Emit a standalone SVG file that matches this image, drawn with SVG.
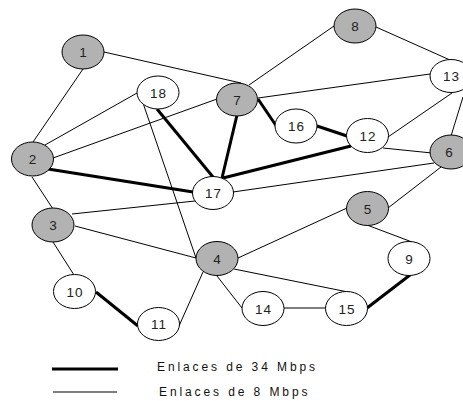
<svg xmlns="http://www.w3.org/2000/svg" width="463" height="401" viewBox="0 0 463 401">
  <style>
    .thin { stroke: #000; stroke-width: 1; fill: none; }
    .thick { stroke: #000; stroke-width: 3; fill: none; }
    .node ellipse { stroke: #000; stroke-width: 1; }
    .hub ellipse { fill: #b2b2b2; }
    .site ellipse { fill: #fff; }
    .node text { font-family: "Liberation Sans", Arial, sans-serif; font-size: 13.5px; letter-spacing: 1px; fill: #222; text-anchor: middle; }
    .legend { font-family: "Liberation Sans", Arial, sans-serif; font-size: 12px; letter-spacing: 2.9px; fill: #111; }
  </style>
  <rect width="463" height="401" fill="#fff"/>

  <!-- links between nodes -->
  <g id="connectors">
    <!-- 8 Mbps links -->
    <line class="thin" x1="104" y1="52" x2="241" y2="83"/>
    <line class="thin" x1="83" y1="69" x2="33" y2="142"/>
    <line class="thin" x1="45" y1="145" x2="137" y2="93"/>
    <line class="thin" x1="53" y1="158" x2="217" y2="99"/>
    <line class="thin" x1="32" y1="177" x2="53" y2="209"/>
    <line class="thin" x1="72" y1="214" x2="195" y2="201"/>
    <line class="thin" x1="75" y1="226" x2="196" y2="258"/>
    <line class="thin" x1="53" y1="242" x2="74" y2="275"/>
    <line class="thin" x1="143" y1="103" x2="196" y2="258"/>
    <line class="thin" x1="249" y1="85" x2="334" y2="26"/>
    <line class="thin" x1="258" y1="98" x2="430" y2="74"/>
    <line class="thin" x1="376" y1="27" x2="450" y2="60"/>
    <line class="thin" x1="388" y1="137" x2="452" y2="93"/>
    <line class="thin" x1="463" y1="97" x2="451" y2="136"/>
    <line class="thin" x1="383" y1="148" x2="432" y2="153"/>
    <line class="thin" x1="233" y1="192" x2="434" y2="163"/>
    <line class="thin" x1="388" y1="208" x2="441" y2="167"/>
    <line class="thin" x1="238" y1="258" x2="347" y2="208"/>
    <line class="thin" x1="367" y1="225" x2="412" y2="242"/>
    <line class="thin" x1="234" y1="269" x2="348" y2="292"/>
    <line class="thin" x1="217" y1="276" x2="242" y2="308"/>
    <line class="thin" x1="203" y1="272" x2="179" y2="326"/>
    <line class="thin" x1="284" y1="308" x2="326" y2="308"/>
    <!-- 34 Mbps links -->
    <line class="thick" x1="48" y1="169" x2="193" y2="192"/>
    <line class="thick" x1="157" y1="109" x2="213" y2="177"/>
    <line class="thick" x1="237" y1="115" x2="222" y2="178"/>
    <line class="thick" x1="223" y1="178" x2="351" y2="146"/>
    <line class="thick" x1="258" y1="99" x2="277" y2="127"/>
    <line class="thick" x1="317" y1="126" x2="347" y2="136"/>
    <line class="thick" x1="96" y1="292" x2="138" y2="326"/>
    <line class="thick" x1="367" y1="308" x2="410" y2="275"/>
  </g>

  <!-- nodes -->
  <g id="n1" class="node hub"><ellipse cx="83" cy="52" rx="21" ry="17"/><text x="83.5" y="57">1</text></g>
  <g id="n2" class="node hub"><ellipse cx="32.5" cy="159" rx="21" ry="17"/><text x="33" y="164">2</text></g>
  <g id="n3" class="node hub"><ellipse cx="53" cy="225" rx="21" ry="17"/><text x="53.5" y="230">3</text></g>
  <g id="n4" class="node hub"><ellipse cx="217" cy="258.5" rx="21" ry="17"/><text x="217.5" y="263.5">4</text></g>
  <g id="n5" class="node hub"><ellipse cx="367.5" cy="208.5" rx="21" ry="17"/><text x="368" y="213.5">5</text></g>
  <g id="n6" class="node hub"><ellipse cx="451" cy="152" rx="21" ry="17"/><text x="449.5" y="157">6</text></g>
  <g id="n7" class="node hub"><ellipse cx="237" cy="99.5" rx="20.5" ry="16.5"/><text x="237.5" y="104.5">7</text></g>
  <g id="n8" class="node hub"><ellipse cx="355" cy="26" rx="21" ry="17"/><text x="355.5" y="31">8</text></g>
  <g id="n9" class="node site"><ellipse cx="409" cy="258.5" rx="21" ry="17"/><text x="409.5" y="263.5">9</text></g>
  <g id="n10" class="node site"><ellipse cx="74.5" cy="291.5" rx="21" ry="17"/><text x="75" y="296.5">10</text></g>
  <g id="n11" class="node site"><ellipse cx="158.5" cy="324" rx="21" ry="16.5"/><text x="159" y="329">11</text></g>
  <g id="n12" class="node site"><ellipse cx="367.5" cy="135.5" rx="21" ry="17"/><text x="368" y="140.5">12</text></g>
  <g id="n13" class="node site"><ellipse cx="451" cy="76" rx="21" ry="16.5"/><text x="451.5" y="81">13</text></g>
  <g id="n14" class="node site"><ellipse cx="263" cy="308.5" rx="21" ry="17"/><text x="263.5" y="313.5">14</text></g>
  <g id="n15" class="node site"><ellipse cx="346.5" cy="308.5" rx="21" ry="17"/><text x="347" y="313.5">15</text></g>
  <g id="n16" class="node site"><ellipse cx="296" cy="126" rx="21" ry="17"/><text x="296.5" y="131">16</text></g>
  <g id="n17" class="node site"><ellipse cx="213" cy="193" rx="20.5" ry="16.5"/><text x="213.5" y="198">17</text></g>
  <g id="n18" class="node site"><ellipse cx="158" cy="92.5" rx="21" ry="16.5"/><text x="158.5" y="97.5">18</text></g>

  <!-- key -->
  <g id="legend">
    <line class="thick" x1="52" y1="369" x2="118" y2="369"/>
    <text class="legend" x="157" y="371">Enlaces de 34 Mbps</text>
    <line class="thin" x1="53" y1="392" x2="117" y2="392" stroke="#777"/>
    <text class="legend" x="159" y="396">Enlaces de 8 Mbps</text>
  </g>
</svg>
